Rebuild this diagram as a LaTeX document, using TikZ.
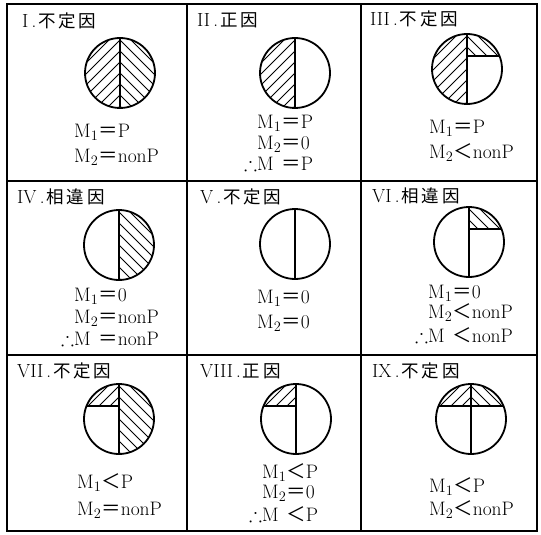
\documentclass[tikz,border=0pt]{standalone}
\usepackage{amssymb}
\usepackage{fontspec}
\newfontfamily\cjk{Noto Sans CJK JP}
\newfontfamily\cjkt[LetterSpace=16]{Noto Sans CJK JP}
\usetikzlibrary{calc}

\newcommand{\eqfw}{{\cjk ＝}}
\newcommand{\ltfw}{{\cjk ＜}}
\newcommand{\Mi}{M$_1$}
\newcommand{\Mii}{M$_2$}
\newcommand{\Mo}{$\therefore$M\hphantom{$_1$}}
\newcommand{\kind}[2]{{\fontsize{19}{22}\selectfont #1\,.}\hspace{2pt}{\cjkt #2}}

% hatch one part of a disc: centre, corner offsets (x,y) and (x,y), slope
\newcommand{\hatchin}[6]{%
  \begin{scope}
    \clip (#1) circle[radius=35];
    \clip ($(#1)+(#2,#3)$) rectangle ($(#1)+(#4,#5)$);
    \foreach \k in {-10,...,10}
      \draw[hatch] ($(#1)+(-66,\k*11)$) -- ++(132,#6*132);
  \end{scope}}

\begin{document}
\begin{tikzpicture}[
    x=1pt, y=-1pt,
    frame/.style={line width=1.6pt},
    ring/.style={line width=1.8pt},
    axis/.style={line width=1.3pt},
    hatch/.style={line width=0.9pt},
    title/.style={anchor=west, inner sep=0pt, font=\fontsize{17.5}{21}\selectfont},
    eqn/.style={inner sep=0pt, font=\fontsize{19.5}{22}\selectfont}
]
\useasboundingbox (0,0) rectangle (541,535);

% table
\draw[frame] (7,4) rectangle (537,531);
\draw[frame] (187,4) -- (187,531);
\draw[frame] (361,4) -- (361,531);
\draw[frame] (7,181) -- (537,181);
\draw[frame] (7,355) -- (537,355);

% disc centres
\coordinate (o1) at (120,73);
\coordinate (o2) at (295,73);
\coordinate (o3) at (467,69);
\coordinate (o4) at (119,245);
\coordinate (o5) at (295,244);
\coordinate (o6) at (469,242);
\coordinate (o7) at (119,419);
\coordinate (o8) at (296,419);
\coordinate (o9) at (471,419);

% hatching
\hatchin{o1}{-40}{-40}{0}{40}{-1}
\hatchin{o1}{0}{-40}{40}{40}{1}
\hatchin{o2}{-40}{-40}{0}{40}{-1}
\hatchin{o3}{-40}{-40}{0}{40}{-1}
\hatchin{o3}{0}{-40}{40}{-13}{1}
\hatchin{o4}{0}{-40}{40}{40}{1}
\hatchin{o6}{0}{-40}{40}{-13}{1}
\hatchin{o7}{-40}{-40}{0}{-13}{-1}
\hatchin{o7}{0}{-40}{40}{40}{1}
\hatchin{o8}{-40}{-40}{0}{-13}{-1}
\hatchin{o9}{-40}{-40}{0}{-13}{-1}
\hatchin{o9}{0}{-40}{40}{-13}{1}

% discs and diameters
\foreach \c in {o1,o2,o3,o4,o5,o6,o7,o8,o9} {
  \draw[ring] (\c) circle[radius=35];
  \draw[axis] ($(\c)+(0,-35)$) -- ($(\c)+(0,35)$);
}
\draw[axis] ($(o3)+(0,-13)$) -- ($(o3)+(32.5,-13)$);
\draw[axis] ($(o6)+(0,-13)$) -- ($(o6)+(32.5,-13)$);
\draw[axis] ($(o7)+(-32.5,-13)$) -- ($(o7)+(0,-13)$);
\draw[axis] ($(o8)+(-32.5,-13)$) -- ($(o8)+(0,-13)$);
\draw[axis] ($(o9)+(-32.5,-13)$) -- ($(o9)+(32.5,-13)$);

% titles
\node[title] (h1) at (22,21)   {\kind{I}{不定因}};
\node[title] (h2) at (197,20)  {\kind{II}{正因}};
\node[title] (h3) at (370,19)  {\kind{III}{不定因}};
\node[title] (h4) at (17,197)  {\kind{IV}{相違因}};
\node[title] (h5) at (200,197) {\kind{V}{不定因}};
\node[title] (h6) at (372,196) {\kind{VI}{相違因}};
\node[title] (h7) at (17,371)  {\kind{VII}{不定因}};
\node[title] (h8) at (200,371) {\kind{VIII}{正因}};
\node[title] (h9) at (372,371) {\kind{IX}{不定因}};

% formulas
\node[eqn, anchor=west] (m1a) at (74,132) {\Mi\eqfw P};
\node[eqn, anchor=west] (m1b) at (74,157) {\Mii\eqfw nonP};

\node[eqn, anchor=west] (m2a) at (257,123) {\Mi\eqfw P};
\node[eqn, anchor=west] (m2b) at (257,144) {\Mii\eqfw 0};
\node[eqn, anchor=east] (m2c) at ($(m2a.east)+(0,41)$) {\Mo\eqfw P};

\node[eqn, anchor=west] (m3a) at (429,128) {\Mi\eqfw P};
\node[eqn, anchor=west] (m3b) at (429,153) {\Mii\ltfw nonP};

\node[eqn, anchor=west] (m4a) at (74,296) {\Mi\eqfw 0};
\node[eqn, anchor=west] (m4b) at (74,318) {\Mii\eqfw nonP};
\node[eqn, anchor=east] (m4c) at ($(m4b.east)+(0,21)$) {\Mo\eqfw nonP};

\node[eqn, anchor=west] (m5a) at (257,298) {\Mi\eqfw 0};
\node[eqn, anchor=west] (m5b) at (257,323) {\Mii\eqfw 0};

\node[eqn, anchor=west] (m6a) at (428,293) {\Mi\eqfw 0};
\node[eqn, anchor=west] (m6b) at (428,313) {\Mii\ltfw nonP};
\node[eqn, anchor=east] (m6c) at ($(m6b.east)+(0,22)$) {\Mo\ltfw nonP};

\node[eqn, anchor=west] (m7a) at (77,483) {\Mi\ltfw P};
\node[eqn, anchor=west] (m7b) at (77,510) {\Mii\eqfw nonP};

\node[eqn, anchor=west] (m8a) at (262,473) {\Mi\ltfw P};
\node[eqn, anchor=west] (m8b) at (262,493) {\Mii\eqfw 0};
\node[eqn, anchor=east] (m8c) at ($(m8a.east)+(0,41)$) {\Mo\ltfw P};

\node[eqn, anchor=west] (m9a) at (429,487) {\Mi\ltfw P};
\node[eqn, anchor=west] (m9b) at (429,510) {\Mii\ltfw nonP};
\end{tikzpicture}
\end{document}
